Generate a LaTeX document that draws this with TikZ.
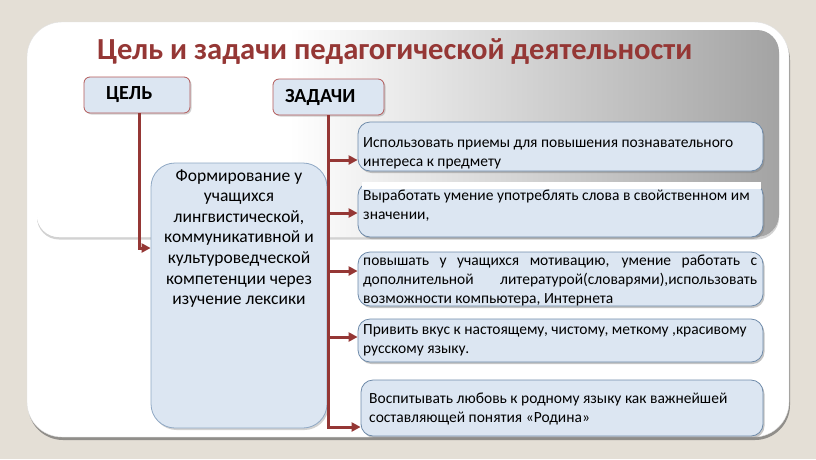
\documentclass[tikz,border=0pt]{standalone}
\usepackage{fontspec}
\setmainfont{Carlito}
\usetikzlibrary{arrows.meta,shadows}
\definecolor{bg}{HTML}{E4DFD6}
\definecolor{dred}{HTML}{953735}
\definecolor{boxfill}{HTML}{DCE6F2}
\definecolor{boxline}{HTML}{6F8BAA}
\definecolor{mainline}{HTML}{8FA8C4}
\definecolor{hdline}{HTML}{B35A5A}
\pgfdeclarehorizontalshading{panelshade}{100bp}{color(0bp)=(white); color(25bp)=(white); color(42bp)=(white); color(75bp)=(black!36); color(100bp)=(black!36)}
\tikzset{
  hdbox/.style={draw=hdline, line width=0.8pt, fill=boxfill, rounded corners=6pt,
    font=\bfseries\fontsize{20}{24}\selectfont, align=left, inner ysep=0pt,
    drop shadow={shadow xshift=1.5pt, shadow yshift=-1.5pt, opacity=0.35}},
  taskbox/.style={draw=boxline, line width=0.8pt, fill=boxfill, rounded corners=12pt,
    inner sep=0pt, drop shadow={shadow xshift=1.5pt, shadow yshift=-2pt, opacity=0.45}},
  mainbox/.style={draw=mainline, line width=0.8pt, fill=boxfill, rounded corners=24pt,
    inner sep=0pt, drop shadow={shadow xshift=1.5pt, shadow yshift=-2pt, opacity=0.35}},
  tasktext/.style={anchor=base west, inner sep=0pt},
  conn/.style={draw=dred, line width=3pt, -{Triangle[length=9pt,width=9pt]}},
}
\newcommand{\tasktxt}[1]{\parbox[t]{398pt}{\fontsize{15.5}{19.5}\selectfont #1}}
\begin{document}
\begin{tikzpicture}[x=1pt,y=-1pt]
\useasboundingbox (0,0) rectangle (816,459);
\fill[bg] (0,0) rectangle (816,459);
% outer white panel
\path[fill=white, draw=black!12, rounded corners=35pt,
  drop shadow={shadow xshift=1pt, shadow yshift=-3pt, opacity=0.55, fill=black!70}]
  (27,22) rectangle (789,437);
% gradient header panel
\path[fill=white, rounded corners=22pt,
  drop shadow={shadow xshift=0pt, shadow yshift=-2.5pt, opacity=0.35}]
  (37,30) rectangle (779,237);
\shade[shading=panelshade, rounded corners=22pt] (37,30) rectangle (779,237);
% title
\node[font=\bfseries\fontsize{30.6}{36}\selectfont, text=dred, anchor=base west, inner sep=0pt]
  (title) at (97,59) {Цель и задачи педагогической деятельности};
% header boxes
\node[hdbox, text width=62pt, inner xsep=22pt, minimum height=36pt] (cel) at (137,95) {ЦЕЛЬ};
\node[hdbox, text width=87pt, inner xsep=12pt, minimum height=36pt] (zad) at (328.5,97) {ЗАДАЧИ};
% main box
\node[mainbox, minimum width=176pt, minimum height=265pt] (main) at (239,295.5) {};
\node[anchor=base, inner sep=0pt] (maintext) at (239,181)
  {\parbox[t]{174pt}{\centering\fontsize{17.5}{20.6}\selectfont Формирование у\\учащихся\\лингвистической,\\коммуникативной и\\культуроведческой\\компетенции через\\изучение лексики}};
% task boxes
\node[taskbox, minimum width=405pt, minimum height=49pt] (t1) at (560.5,146.5) {};
\node[taskbox, minimum width=405pt, minimum height=54pt] (t2) at (560.5,210) {};
\fill[white] (362,181.5) rectangle (761,189);
\node[taskbox, minimum width=405pt, minimum height=54pt] (t3) at (560.5,279) {};
\node[taskbox, minimum width=405pt, minimum height=43pt] (t4) at (560.5,340.5) {};
\node[taskbox, minimum width=402pt, minimum height=56pt] (t5) at (562,408) {};
\node[tasktext] (x1) at (363,147) {\tasktxt{\raggedright Использовать приемы для повышения познавательного\\интереса к предмету}};
\node[tasktext] (x2) at (363,200) {\tasktxt{\raggedright Выработать умение употреблять слова в свойственном им\\значении,}};
\node[tasktext] (x3) at (363,265) {\parbox[t]{394pt}{\fontsize{15.5}{19}\selectfont повышать у учащихся мотивацию, умение работать с\linebreak дополнительной литературой(словарями),использовать\linebreak возможности компьютера, Интернета}};
\node[tasktext] (x4) at (363,334) {\tasktxt{\raggedright Привить вкус к настоящему, чистому, меткому ,красивому\\русскому языку.}};
\node[tasktext] (x5) at (369,403) {\tasktxt{\raggedright Воспитывать любовь к родному языку как важнейшей\\составляющей понятия «Родина»}};
% connectors
\coordinate (cy) at (139,248);
\draw[conn] (cel.south -| cy) |- (main.west |- cy);
\coordinate (a1) at (0,160);
\coordinate (a2) at (0,213);
\coordinate (a3) at (0,271);
\coordinate (a4) at (0,337);
\coordinate (a5) at (0,427);
\draw[conn] (zad.south) |- (t5.west |- a5);
\draw[conn] (zad.south |- a1) -- (t1.west |- a1);
\draw[conn] (zad.south |- a2) -- (t2.west |- a2);
\draw[conn] (zad.south |- a3) -- (t3.west |- a3);
\draw[conn] (zad.south |- a4) -- (t4.west |- a4);
\end{tikzpicture}
\end{document}
